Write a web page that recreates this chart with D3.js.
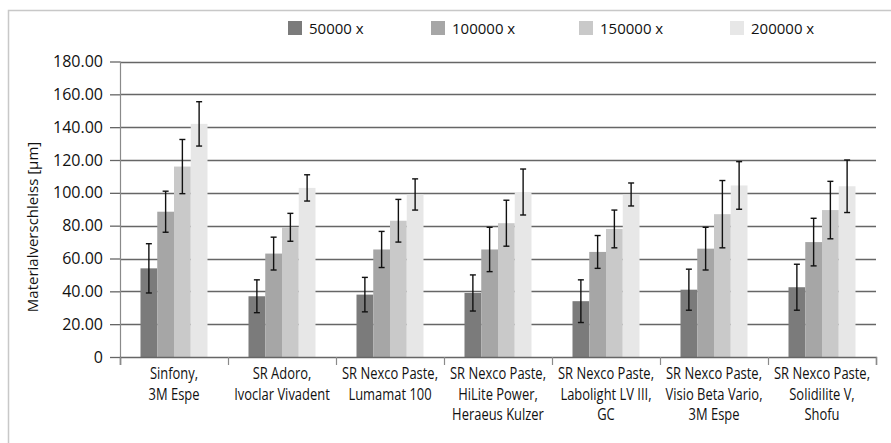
<!DOCTYPE html>
<html>
<head>
<meta charset="utf-8">
<script src="https://cdn.jsdelivr.net/npm/d3@7"></script>
<style>
  body { margin: 0; background: #fff; }
  svg { display: block; }
  .lbl { font-family: "Open Sans", sans-serif; font-size: 16px; fill: #111; }
  .txt { font-family: "Open Sans", sans-serif; font-size: 15px; fill: #111; }
  .tck { font-family: "Open Sans", sans-serif; font-size: 16px; fill: #111; }
</style>
</head>
<body>
<svg id="chart"></svg>
<script>
// data
const categories = [
    ["Sinfony,", "3M Espe"],
    ["SR Adoro,", "Ivoclar Vivadent"],
    ["SR Nexco Paste,", "Lumamat 100"],
    ["SR Nexco Paste,", "HiLite Power,", "Heraeus Kulzer"],
    ["SR Nexco Paste,", "Labolight LV III,", "GC"],
    ["SR Nexco Paste,", "Visio Beta Vario,", "3M Espe"],
    ["SR Nexco Paste,", "Solidilite V,", "Shofu"]
];
const seriesNames = ["50000 x", "100000 x", "150000 x", "200000 x"];
const values50k  = [54, 37, 38, 39, 34, 41, 42.5];
const errors50k  = [15, 10, 10.5, 11, 13, 12.5, 14];
const values100k = [88.5, 63, 65.5, 65.5, 64, 66, 70];
const errors100k = [12.5, 10, 11, 13.5, 10, 13, 14.5];
const values150k = [116, 79, 83, 81.5, 78, 87, 89.5];
const errors150k = [16.5, 8.5, 13, 14, 11.5, 20.5, 17.5];
const values200k = [142, 103, 99, 100.5, 99, 104.5, 104];
const errors200k = [13.5, 8, 9.5, 14, 7, 14.5, 16];
const yTicks = [0, 20, 40, 60, 80, 100, 120, 140, 160, 180];
const yTitle = "Materialverschleiss [µm]";

const seriesValues = [values50k, values100k, values150k, values200k];
const seriesErrors = [errors50k, errors100k, errors150k, errors200k];
const colors = ["#7b7b7b", "#a6a6a6", "#c9c9c9", "#e7e7e7"];

// layout
const W = 891, H = 443;
const plotLeft = 120, plotRight = 876, plotTop = 61.5, plotBottom = 357;
const legendX = [288, 431, 579, 730];

const svg = d3.select('#chart').attr('width', W).attr('height', H);

// frame lines (left + top)
svg.append('path')
    .attr('d', 'M8.5,' + H + 'V10.5H' + W)
    .attr('fill', 'none')
    .attr('stroke', '#c8c8c8')
    .attr('stroke-width', 1.5);

const keys = categories.map((c, i) => i);
const x = d3.scaleBand().domain(keys).range([plotLeft, plotRight]).paddingInner(0).paddingOuter(0);
const groupPad = 20.5;
const xs = d3.scaleBand().domain(d3.range(seriesNames.length))
    .range([groupPad, x.bandwidth() - groupPad]);
const y = d3.scaleLinear().domain([0, 180]).range([plotBottom, plotTop]);

// gridlines
svg.append('g').selectAll('line')
    .data(yTicks.filter(t => t > 0))
    .enter().append('line')
    .attr('x1', plotLeft).attr('x2', plotRight)
    .attr('y1', d => Math.round(y(d)) + 0.5).attr('y2', d => Math.round(y(d)) + 0.5)
    .attr('stroke', '#666').attr('stroke-width', 1.3);

// bars
const data = [];
seriesValues.forEach((vals, s) => {
    vals.forEach((v, c) => data.push({c: c, s: s, v: v, e: seriesErrors[s][c]}));
});

svg.append('g').selectAll('rect')
    .data(data)
    .enter().append('rect')
    .attr('x', d => x(d.c) + xs(d.s))
    .attr('y', d => y(d.v))
    .attr('width', xs.bandwidth())
    .attr('height', d => plotBottom - y(d.v))
    .attr('fill', d => colors[d.s]);

// error bars
const eb = svg.append('g').attr('stroke', '#111').attr('stroke-width', 1.4);
data.forEach(function(d) {
    const cx = x(d.c) + xs(d.s) + xs.bandwidth() / 2;
    eb.append('line').attr('x1', cx).attr('x2', cx).attr('y1', y(d.v + d.e)).attr('y2', y(d.v - d.e));
    eb.append('line').attr('x1', cx - 3).attr('x2', cx + 3).attr('y1', y(d.v + d.e)).attr('y2', y(d.v + d.e));
    eb.append('line').attr('x1', cx - 3).attr('x2', cx + 3).attr('y1', y(d.v - d.e)).attr('y2', y(d.v - d.e));
});

// Y axis
const yAxis = svg.append('g')
    .attr('transform', 'translate(' + plotLeft + ',0)')
    .call(d3.axisLeft(y).tickValues(yTicks).tickSize(10).tickPadding(7)
        .tickFormat(d => d === 0 ? '0' : d.toFixed(2)));
yAxis.select('.domain').remove();
yAxis.selectAll('.tick line').attr('stroke', '#666').attr('stroke-width', 1.3);
yAxis.selectAll('text').attr('class', 'tck');
yAxis.attr('font-family', null).attr('font-size', null);
svg.append('line')
    .attr('x1', plotLeft + 0.5).attr('x2', plotLeft + 0.5).attr('y1', plotTop).attr('y2', plotBottom + 8)
    .attr('stroke', '#8a8a8a').attr('stroke-width', 1.2);

// X axis
const xb = d3.scaleLinear().domain([0, categories.length]).range([plotLeft, plotRight]);
const xAxis = svg.append('g')
    .attr('transform', 'translate(0,' + plotBottom + ')')
    .call(d3.axisBottom(xb).tickValues(d3.range(categories.length + 1)).tickSize(8).tickFormat(''));
xAxis.select('.domain').attr('stroke', '#666').attr('stroke-width', 1.4);
xAxis.selectAll('.tick line').attr('stroke', '#8a8a8a').attr('stroke-width', 1.2);

// category labels (condensed horizontally, like the original face)
const lbl = svg.append('g').selectAll('text')
    .data(categories)
    .enter().append('text')
    .attr('class', 'lbl')
    .attr('text-anchor', 'middle');
lbl.selectAll('tspan')
    .data(d => d)
    .enter().append('tspan')
    .attr('x', 0)
    .attr('dy', (d, i) => i === 0 ? 0 : 20.7)
    .text(d => d);
// measure one line and squeeze so "SR Nexco Paste," is ~96px wide
const probe = svg.append('text').attr('class', 'lbl').text('SR Nexco Paste,');
const squeeze = 96 / probe.node().getComputedTextLength();
probe.remove();
lbl.attr('transform', (d, i) => 'translate(' + (x(i) + x.bandwidth() / 2) + ',379) scale(' + squeeze + ',1)');

// Y title
svg.append('text')
    .attr('class', 'txt')
    .attr('text-anchor', 'middle')
    .attr('transform', 'translate(38,227) rotate(-90)')
    .text(yTitle);

// legend
const legend = svg.append('g').selectAll('g')
    .data(seriesNames)
    .enter().append('g')
    .attr('transform', (d, i) => 'translate(' + legendX[i] + ',21)');
legend.append('rect').attr('width', 14).attr('height', 14).attr('fill', (d, i) => colors[i]);
legend.append('text').attr('class', 'txt').attr('x', 21).attr('y', 12.5).text(d => d);
</script>
</body>
</html>
